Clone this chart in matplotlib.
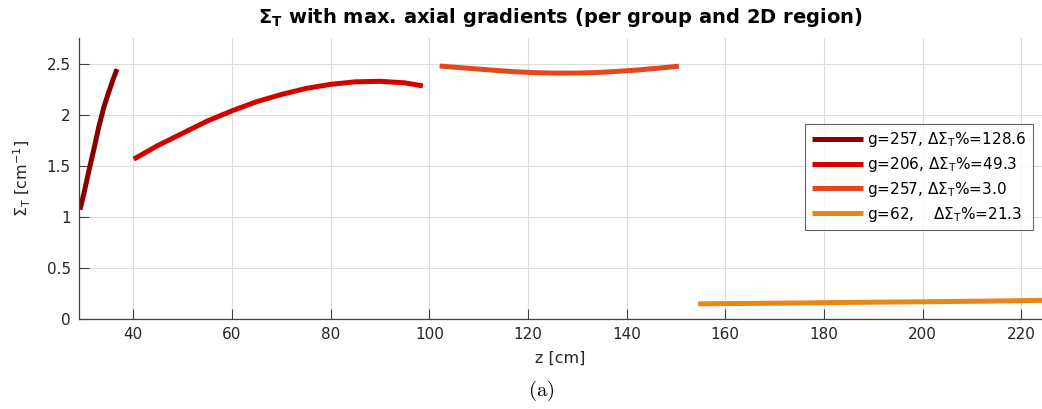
import matplotlib
matplotlib.use("Agg")
import matplotlib.pyplot as plt

plt.rcParams['mathtext.fontset'] = 'dejavusans'

# Data
z1 = [29.2, 30.0, 31.0, 32.0, 33.0, 34.0, 35.0, 36.0, 36.7]
s1 = [1.07, 1.23, 1.45, 1.66, 1.88, 2.07, 2.22, 2.36, 2.45]

z2 = [40.1, 45, 50, 55, 60, 65, 70, 75, 80, 85, 90, 95, 98.7]
s2 = [1.566, 1.70, 1.82, 1.94, 2.04, 2.13, 2.20, 2.26, 2.30, 2.325, 2.33, 2.315, 2.285]

z3 = [102.1, 106, 110, 114, 118, 122, 126, 130, 134, 138, 142, 146, 150.6]
s3 = [2.48, 2.465, 2.45, 2.435, 2.422, 2.414, 2.41, 2.411, 2.416, 2.427, 2.44, 2.457, 2.478]

z4 = [154.5, 170, 185, 200, 212, 224.2]
s4 = [0.146, 0.152, 0.16, 0.166, 0.172, 0.18]

labels = [r"g=257, $\Delta\Sigma_\mathrm{T}$%=128.6",
          r"g=206, $\Delta\Sigma_\mathrm{T}$%=49.3",
          r"g=257, $\Delta\Sigma_\mathrm{T}$%=3.0",
          r"g=62,    $\Delta\Sigma_\mathrm{T}$%=21.3"]
colors = ["#8c0000", "#d40000", "#e5461c", "#e8861c"]

xticks = [40, 60, 80, 100, 120, 140, 160, 180, 200, 220]
yticks = [0, 0.5, 1, 1.5, 2, 2.5]
ytick_labels = ["0", "0.5", "1", "1.5", "2", "2.5"]

fig = plt.figure(figsize=(10.42, 4.09), dpi=100)
ax = fig.add_axes([79/1042, 1-318.7/409, 1-79/1042, (318.7-38)/409])

for zz, ss, c, lab in zip([z1, z2, z3, z4], [s1, s2, s3, s4], colors, labels):
    ax.plot(zz, ss, color=c, lw=3.6, label=lab, solid_capstyle='butt')

ax.set_xlim(29.0, 224.2)
ax.set_ylim(0, 2.755)
ax.set_xticks(xticks)
ax.set_yticks(yticks)
ax.set_yticklabels(ytick_labels)
ax.grid(True, color="#dcdcdc", lw=0.8)
ax.set_axisbelow(True)
for s in ['top', 'right']:
    ax.spines[s].set_visible(False)
for s in ['left', 'bottom']:
    ax.spines[s].set_color("#404040")
    ax.spines[s].set_linewidth(0.9)
ax.tick_params(direction='in', length=7, width=0.8, color="#404040",
               labelcolor="#262626", labelsize=11, pad=6)

ax.set_title(r"$\mathbf{\Sigma_T}$ with max. axial gradients (per group and 2D region)",
             fontsize=14, fontweight='bold', pad=11)
ax.set_xlabel("z [cm]", fontsize=11.5, color="#262626", labelpad=6)
ax.set_ylabel(r"$\Sigma_\mathrm{T}$ [cm$^{-1}$]", fontsize=11.5, color="#262626", labelpad=10)

leg = ax.legend(loc='upper right', bbox_to_anchor=((1032.7-79)/(1042-79), (318.7-124)/(318.7-38)),
                fontsize=11, frameon=True, fancybox=False, edgecolor="#404040",
                handlelength=3.4, handletextpad=0.25, borderpad=0.4, labelspacing=0.38,
                borderaxespad=0)
leg.get_frame().set_linewidth(0.8)

fig.text(541/1042, 1-391/409, r"$\mathrm{(a)}$", ha='center', va='center', fontsize=15,
         math_fontfamily='cm')

fig.savefig("out.png", dpi=100)
